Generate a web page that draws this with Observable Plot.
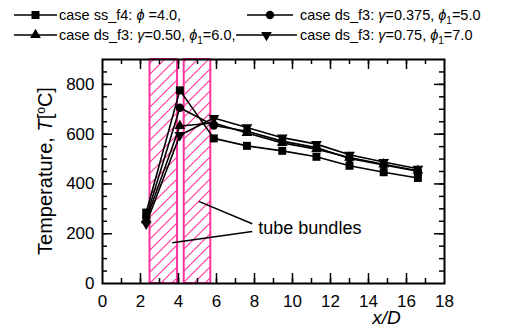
<!DOCTYPE html>
<html><head><meta charset="utf-8">
<script src="https://cdn.jsdelivr.net/npm/d3@7"></script>
<script src="https://cdn.jsdelivr.net/npm/@observablehq/plot@0.6"></script>
<style>
body{margin:0;background:#fff;font-family:"Liberation Sans",Arial,sans-serif;color:#000;}
#legend{display:block;}
</style></head><body>
<div id="legendBox"></div><div id="chart"></div>
<script>
// x/D positions of measurement stations
const xPos = [2.3, 4.07, 5.86, 7.6, 9.46, 11.26, 13.0, 14.8, 16.6];
// Temperatures [°C]
const caseSS_f4   = [285, 776, 583, 553, 533, 509, 473, 447, 424];
const caseDS_0375 = [265, 706, 635, 612, 572, 546, 502, 476, 451];
const caseDS_050  = [255, 633, 645, 605, 565, 540, 506, 479, 453];
const caseDS_075  = [240, 596, 665, 627, 586, 560, 517, 488, 461];
// tube bundle extents (x/D)
const bundleStart = [2.5, 4.3];
const bundleEnd   = [3.95, 5.7];
// annotation leader lines (x/D, T)
const leaderX1 = [5.07, 3.67];
const leaderY1 = [330, 164];
const leaderX2 = [7.88, 7.88];
const leaderY2 = [240, 209];
const annoX = 8.2, annoY = 222;
const xTicks = [0, 2, 4, 6, 8, 10, 12, 14, 16, 18];
const yTicks = [0, 200, 400, 600, 800];

// legend text parts: [text, style] where style: "" normal, "i" italic, "s" subscript
const series = [
  {T: caseSS_f4, symbol: "square", rotate: 0, r: 4.5,
   parts: [["case ss_f4: ", ""], ["ϕ", "i"], [" =4.0,", ""]], lx: 14, lw: 43, tx: 59, row: 0},
  {T: caseDS_0375, symbol: "circle", rotate: 0, r: 4.2,
   parts: [["case ds_f3: ", ""], ["γ", "i"], ["=0.375, ", ""], ["ϕ", "i"], ["1", "s"], ["=5.0", ""]], lx: 247, lw: 46, tx: 300, row: 0},
  {T: caseDS_050, symbol: "triangle", rotate: 0, r: 4,
   parts: [["case ds_f3: ", ""], ["γ", "i"], ["=0.50, ", ""], ["ϕ", "i"], ["1", "s"], ["=6.0,", ""]], lx: 14, lw: 43, tx: 59, row: 1},
  {T: caseDS_075, symbol: "triangle", rotate: 180, r: 4,
   parts: [["case ds_f3: ", ""], ["γ", "i"], ["=0.75, ", ""], ["ϕ", "i"], ["1", "s"], ["=7.0", ""]], lx: 236, lw: 61, tx: 300, row: 1}
];

// legend (HTML block above the chart)
const symMap = {square: d3.symbolSquare, circle: d3.symbolCircle, triangle: d3.symbolTriangle};
const leg = d3.select("#legendBox").append("svg").attr("id", "legend").attr("width", 508).attr("height", 48)
  .style("font-family", "Liberation Sans, Arial, sans-serif");
series.forEach(s => {
  const base = s.row === 0 ? 20 : 40;
  const ly = base - 5;
  leg.append("line").attr("x1", s.lx).attr("x2", s.lx + s.lw).attr("y1", ly).attr("y2", ly)
    .attr("stroke", "#000").attr("stroke-width", 1.6);
  leg.append("path").attr("d", d3.symbol(symMap[s.symbol], Math.PI * s.r * s.r)())
    .attr("transform", `translate(${s.lx + s.lw / 2},${ly}) rotate(${s.rotate})`).attr("fill", "#000");
  const t = leg.append("text").attr("x", s.tx).attr("y", base).attr("font-size", 14.5).attr("fill", "#000");
  let shifted = false;
  s.parts.forEach(([txt, st]) => {
    const sp = t.append("tspan").text(txt);
    if (st === "i") sp.attr("font-style", "italic");
    if (st === "s") { sp.attr("font-size", 10).attr("dy", 4); shifted = true; }
    else if (shifted) { sp.attr("dy", -4); shifted = false; }
  });
});

const bundles = bundleStart.map((a, i) => ({x1: a, x2: bundleEnd[i]}));
const leaders = leaderX1.map((a, i) => ({x1: a, y1: leaderY1[i], x2: leaderX2[i], y2: leaderY2[i]}));

const W = 508, H = 286, mL = 102, mR = 64, mT = 11, mB = 51;
const iw = W - mL - mR, ih = H - mT - mB;
const major = 10, minor = 5;

const marks = [
  Plot.rect(bundles, {x1: "x1", x2: "x2", y1: 0, y2: 900, fill: "white", stroke: "#ff3399", strokeWidth: 2, className: "bundle"}),
  Plot.tickX(d3.range(1, 18, 1), {x: d => d, insetTop: ih - minor, stroke: "#000", strokeWidth: 1.5}),
  Plot.tickX(d3.range(1, 18, 1), {x: d => d, insetBottom: ih - minor, stroke: "#000", strokeWidth: 1.5}),
  Plot.tickX(xTicks.slice(1, -1), {x: d => d, insetTop: ih - major, stroke: "#000", strokeWidth: 1.5}),
  Plot.tickX(xTicks.slice(1, -1), {x: d => d, insetBottom: ih - major, stroke: "#000", strokeWidth: 1.5}),
  Plot.tickY(d3.range(50, 900, 50), {y: d => d, insetRight: iw - minor, stroke: "#000", strokeWidth: 1.5}),
  Plot.tickY(d3.range(50, 900, 50), {y: d => d, insetLeft: iw - minor, stroke: "#000", strokeWidth: 1.5}),
  Plot.tickY(yTicks.slice(1), {y: d => d, insetRight: iw - major, stroke: "#000", strokeWidth: 1.5}),
  Plot.tickY(yTicks.slice(1), {y: d => d, insetLeft: iw - major, stroke: "#000", strokeWidth: 1.5}),
  Plot.axisX({ticks: xTicks, tickSize: 0, tickPadding: 11, fontSize: 17, label: null}),
  Plot.axisY({ticks: yTicks, tickSize: 0, tickPadding: 8, fontSize: 17, label: null}),
  Plot.link(leaders, {x1: "x1", y1: "y1", x2: "x2", y2: "y2", stroke: "#000", strokeWidth: 1.5}),
  Plot.text(["tube bundles"], {x: annoX, y: annoY, textAnchor: "start", fontSize: 18}),
  Plot.text(["x/D"], {frameAnchor: "bottom-right", dx: -58, dy: 40, textAnchor: "middle", fontSize: 19, fontStyle: "italic"})
];
series.forEach(s => {
  const rows = xPos.map((x, i) => ({x, T: s.T[i]}));
  marks.push(Plot.line(rows, {x: "x", y: "T", stroke: "#000", strokeWidth: 1.6}));
});
series.forEach(s => {
  const rows = xPos.map((x, i) => ({x, T: s.T[i]}));
  marks.push(Plot.dot(rows, {x: "x", y: "T", symbol: s.symbol, rotate: s.rotate, r: s.r, fill: "#000", stroke: "none"}));
});
marks.push(Plot.frame({stroke: "#000", strokeWidth: 2}));

const chart = Plot.plot({
  width: W, height: H, marginLeft: mL, marginRight: mR, marginTop: mT, marginBottom: mB,
  style: {fontFamily: "Liberation Sans, Arial, sans-serif", color: "#000", background: "#fff"},
  x: {domain: [0, 18]},
  y: {domain: [0, 900]},
  marks
});

const svg = d3.select(chart);
const defs = svg.insert("defs", ":first-child");
const P = 11;
const pat = defs.append("pattern").attr("id", "hatchPink").attr("patternUnits", "userSpaceOnUse")
  .attr("width", P).attr("height", P);
pat.append("rect").attr("width", P).attr("height", P).attr("fill", "#ffffff");
pat.append("path").attr("d", `M0,${P}L${P},0M-2,2L2,-2M${P - 2},${P + 2}L${P + 2},${P - 2}`)
  .attr("fill", "none").attr("stroke", "#ff3399").attr("stroke-width", 1.1)
  .style("stroke", "#ff3399");
svg.selectAll(".bundle rect").attr("fill", "url(#hatchPink)").style("fill", "url(#hatchPink)");

// y axis label with rich text
const yl = svg.append("text")
  .attr("transform", `translate(${mL - 50},${mT + ih / 2}) rotate(-90)`)
  .attr("text-anchor", "middle").attr("font-size", 20).attr("fill", "#000");
yl.append("tspan").text("Temperature, ");
yl.append("tspan").attr("font-style", "italic").text("T");
yl.append("tspan").text("[");
yl.append("tspan").attr("font-size", 12).attr("dy", -7).text("o");
yl.append("tspan").attr("dy", 7).text("C]");

document.getElementById("chart").appendChild(chart);
</script>
</body></html>
